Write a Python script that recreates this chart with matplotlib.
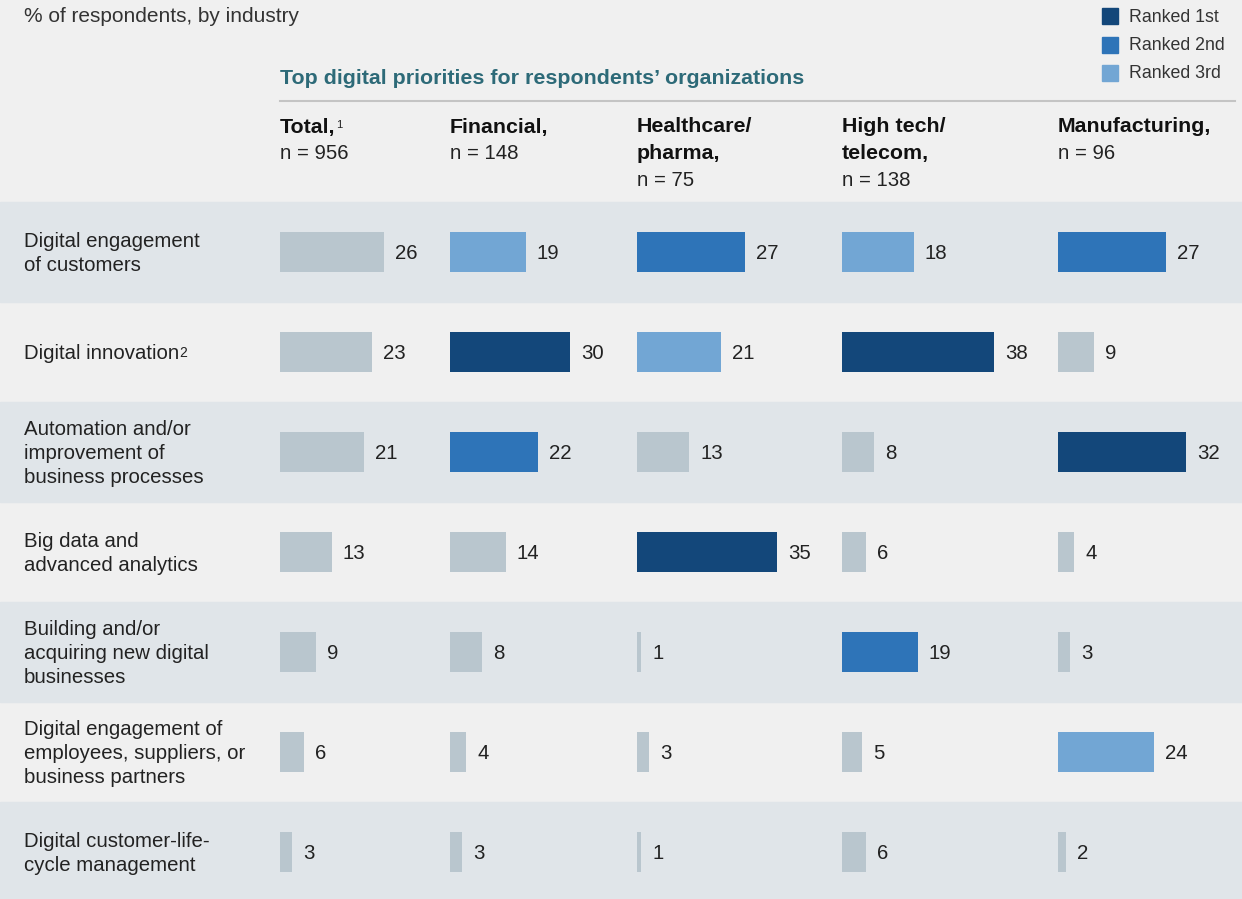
import matplotlib.pyplot as plt
from matplotlib.patches import Rectangle

plt.rcParams['font.family'] = ['Liberation Sans', 'DejaVu Sans']

priorities = [
    "Digital engagement\nof customers",
    "Digital innovation",
    "Automation and/or\nimprovement of\nbusiness processes",
    "Big data and\nadvanced analytics",
    "Building and/or\nacquiring new digital\nbusinesses",
    "Digital engagement of\nemployees, suppliers, or\nbusiness partners",
    "Digital customer-life-\ncycle management",
]
industries = ["Total,", "Financial,", "Healthcare/\npharma,", "High tech/\ntelecom,", "Manufacturing,"]
sample_sizes = [956, 148, 75, 138, 96]

total = [26, 23, 21, 13, 9, 6, 3]
financial = [19, 30, 22, 14, 8, 4, 3]
healthcare = [27, 21, 13, 35, 1, 3, 1]
hightech = [18, 38, 8, 6, 19, 5, 6]
manufacturing = [27, 9, 32, 4, 3, 24, 2]
# rank of each bar (0 = not in top 3)
ranks_total = [0, 0, 0, 0, 0, 0, 0]
ranks_financial = [3, 1, 2, 0, 0, 0, 0]
ranks_healthcare = [2, 3, 0, 1, 0, 0, 0]
ranks_hightech = [3, 1, 0, 0, 2, 0, 0]
ranks_manufacturing = [2, 0, 1, 0, 0, 3, 0]

values = [total, financial, healthcare, hightech, manufacturing]
ranks = [ranks_total, ranks_financial, ranks_healthcare, ranks_hightech, ranks_manufacturing]

rank_colors = {0: "#b9c6ce", 1: "#13477a", 2: "#2e74b8", 3: "#72a6d4"}
bg = "#f0f0f0"
band = "#e0e5e9"

fig = plt.figure(figsize=(12.42, 8.99), dpi=100, facecolor=bg)
ax = fig.add_axes([0, 0, 1, 1])
ax.set_xlim(0, 1242)
ax.set_ylim(899, 0)
ax.axis("off")
renderer = fig.canvas.get_renderer()

col_x = [280, 450, 637, 842, 1058]
row_top = 202
row_h = 100
px_per_unit = 4
fs = 14.7
fs_bold = 15.4
dy = 1.5  # baseline nudge so text sits like the reference


def superscript(txt, s, size):
    # put a small raised label right after an existing text
    bb = txt.get_window_extent(renderer)
    x0, y0 = ax.transData.inverted().transform((bb.x1, bb.y1))
    ax.text(x0 + 0.5, y0 + 2, s, fontsize=size, va="top", ha="left", color="#222222")


# row bands
for i in range(len(priorities)):
    if i % 2 == 0:
        ax.add_patch(Rectangle((0, row_top + i * row_h), 1242, row_h, color=band, zorder=0))

for i, label in enumerate(priorities):
    yc = row_top + i * row_h + row_h / 2
    t = ax.text(24, yc + dy, label, fontsize=fs, va="center", ha="left", color="#222222",
                linespacing=1.33)
    if label == "Digital innovation":
        superscript(t, "2", 10)
    for j in range(len(industries)):
        v = values[j][i]
        ax.barh(yc, v * px_per_unit, left=col_x[j], height=40,
                color=rank_colors[ranks[j][i]], zorder=2)
        ax.text(col_x[j] + v * px_per_unit + 11, yc + dy, str(v), fontsize=fs,
                va="center", ha="left", color="#222222")

# header
ax.text(24, 17, "% of respondents, by industry", fontsize=15, va="center", color="#333333")
ax.text(280, 78, "Top digital priorities for respondents\u2019 organizations", fontsize=fs_bold,
        fontweight="bold", va="center", color="#2d6a78")
ax.plot([280, 1235], [101, 101], color="#c4c4c4", lw=1.5)

for j, name in enumerate(industries):
    lines = name.split("\n")
    for k, ln in enumerate(lines):
        t = ax.text(col_x[j], 127 + k * 26.5, ln, fontsize=fs_bold, fontweight="bold",
                    va="center", color="#111111")
        if j == 0:
            superscript(t, "1", 8)
    ax.text(col_x[j], 127 + len(lines) * 26.5, "n = %d" % sample_sizes[j], fontsize=fs,
            va="center", color="#222222")

# legend
for k, (r, lab) in enumerate([(1, "Ranked 1st"), (2, "Ranked 2nd"), (3, "Ranked 3rd")]):
    y = 16 + k * 28.5
    ax.add_patch(Rectangle((1102, y - 8), 16, 16, color=rank_colors[r]))
    ax.text(1129, y + 1, lab, fontsize=12.8, va="center", color="#333333")

fig.savefig("out.png", dpi=100, facecolor=bg)
